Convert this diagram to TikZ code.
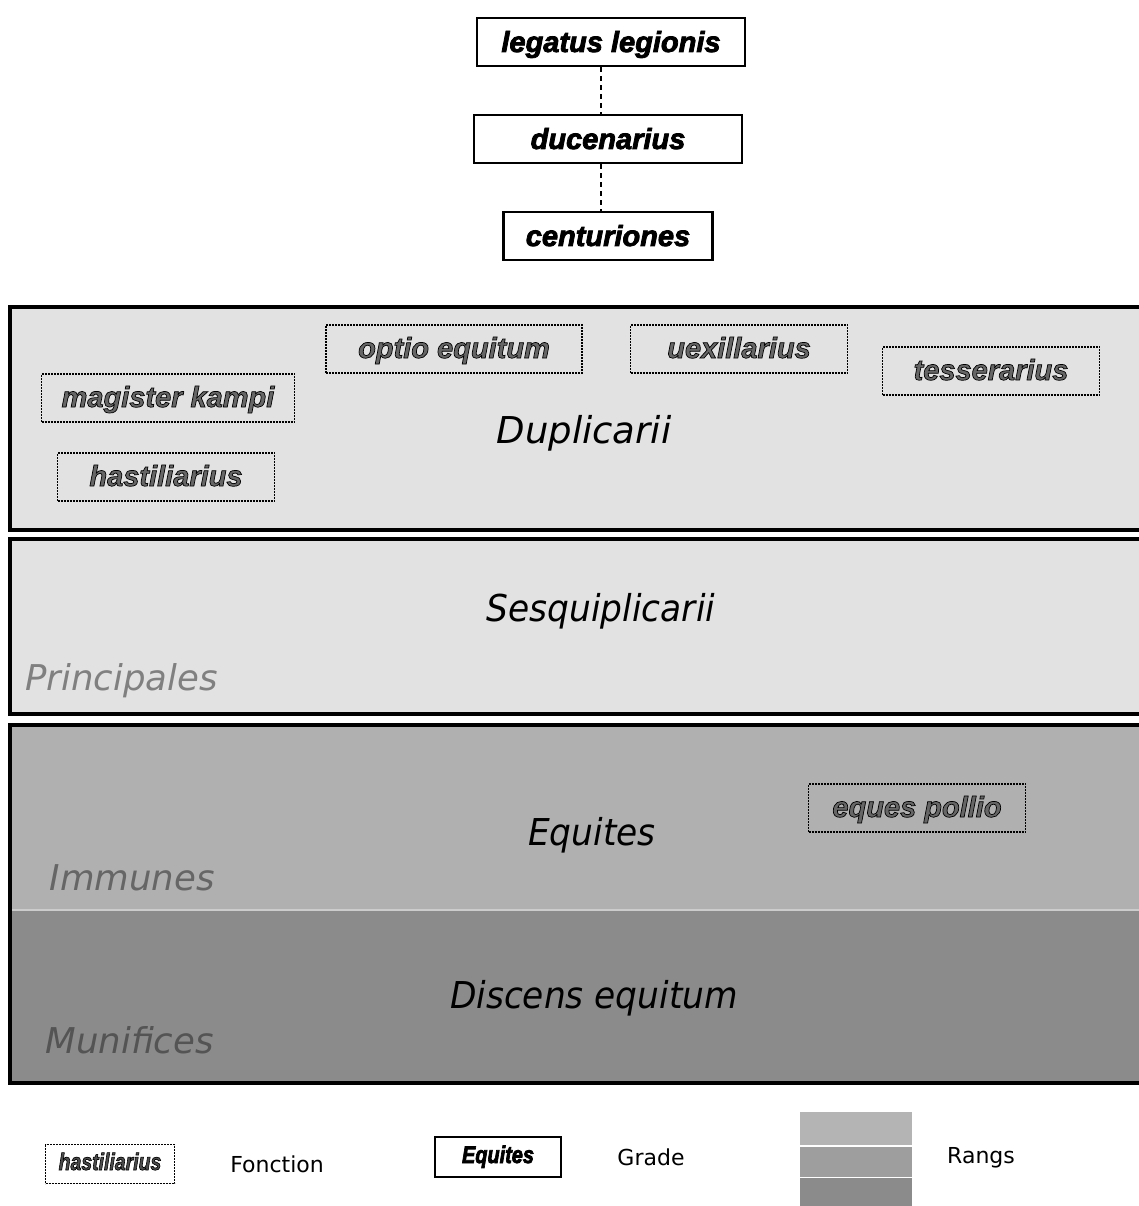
\documentclass[tikz,border=0pt]{standalone}
\usepackage{fontspec}
\setmainfont{DejaVu Sans}
\newfontfamily\arialfont{Liberation Sans}
\usetikzlibrary{positioning}
\definecolor{principales}{HTML}{E2E2E2}
\definecolor{immunes}{HTML}{B0B0B0}
\definecolor{munifices}{HTML}{8B8B8B}

\begin{document}
\begin{tikzpicture}[x=1pt,y=-1pt,
  grade/.style={draw,line width=2.5pt,fill=white,minimum height=48pt,
    text height=24pt,text depth=4pt,
    font=\arialfont\bfseries\itshape\fontsize{29}{30}\selectfont},
  fonction/.style={draw,line width=1.1pt,dash pattern=on 2pt off 1pt,
    minimum height=48pt,minimum width=217pt,text=black!60,
    text height=24pt,text depth=6pt,
    font=\arialfont\bfseries\itshape\fontsize{29}{30}\selectfont},
  rang/.style={draw,line width=3.5pt},
  gradename/.style={anchor=base,font=\itshape\fontsize{37}{40}\selectfont},
  rangname/.style={anchor=base west,font=\itshape\fontsize{35.5}{40}\selectfont},
  legende/.style={inner sep=0pt,font=\fontsize{22}{24}\selectfont}]
\def\cond#1{\scalebox{.93}[1]{#1}}
\def\contour#1{\special{pdf:literal direct 2 Tr 0.7 w 0 G}#1\special{pdf:literal direct 0 Tr}}
\def\gras#1{\special{pdf:literal direct 2 Tr 0.8 w 0 G}#1\special{pdf:literal direct 0 Tr}}
\useasboundingbox (0,0) rectangle (1139,1206);

\node[grade,minimum width=268pt] (legatus) at (611,42) {\gras{legatus legionis}};
\node[grade,minimum width=268pt] (ducenarius) at (608,139) {\gras{ducenarius}};
\node[grade,minimum width=209pt] (centuriones) at (608,236) {\gras{centuriones}};
\draw[line width=1.5pt,dash pattern=on 5pt off 4pt]
  ([xshift=-10pt]legatus.south) -- ([xshift=-7pt]ducenarius.north);
\draw[line width=1.5pt,dash pattern=on 5pt off 4pt]
  ([xshift=-7pt]ducenarius.south) -- ([xshift=-7pt]centuriones.north);

\draw[rang,fill=principales] (10,307) rectangle (1145,530);
\draw[rang,fill=principales] (10,539) rectangle (1145,714);
\fill[immunes] (10,725) rectangle (1145,910);
\fill[munifices] (10,910) rectangle (1145,1083);
\draw[white!80!black,line width=1.5pt] (10,910) -- (1145,910);
\draw[rang] (10,725) rectangle (1145,1083);

\node[gradename] (duplicarii) at (584,443) {Duplicarii};
\node[gradename] (sesquiplicarii) at (601,621) {\cond{Sesquiplicarii}};
\node[gradename] (equites) at (592,845) {\cond{Equites}};
\node[gradename] (discens) at (594,1008) {\cond{Discens equitum}};

\node[rangname,text=black!50] (principales) at (22,690) {Principales};
\node[rangname,text=black!60] (immunesname) at (46,890) {Immunes};
\node[rangname,text=black!67] (munificesname) at (42,1053) {Munifices};

\node[fonction,minimum width=256pt] (optio) at (454,349) {\contour{optio equitum}};
\node[fonction] (uexillarius) at (739,349) {\contour{uexillarius}};
\node[fonction] (tesserarius) at (991,371) {\contour{tesserarius}};
\node[fonction,minimum width=253pt] (magister) at (168,398) {\contour{magister kampi}};
\node[fonction] (hastiliarius) at (166,477) {\contour{hastiliarius}};
\node[fonction] (pollio) at (917,808) {\contour{eques pollio}};

\node[fonction,minimum width=129pt,minimum height=39pt,inner sep=0pt,text=black!70,
  text height=17pt,text depth=5pt] (legfonction) at (110,1164)
  {\fontsize{24}{26}\selectfont\scalebox{.81}[1]{\contour{hastiliarius}}};
\node[legende,right=55pt of legfonction] (fonctiontxt) {Fonction};
\node[grade,minimum width=126pt,minimum height=40pt,inner sep=0pt,
  text height=17pt,text depth=5pt] (leggrade) at (498,1157)
  {\fontsize{24}{26}\selectfont\scalebox{.83}[1]{\gras{Equites}}};
\node[legende,right=55pt of leggrade] (gradetxt) {Grade};
\fill[immunes!95!white] (800,1112) rectangle (912,1145);
\fill[white!62!black] (800,1147) rectangle (912,1177);
\fill[munifices] (800,1178) rectangle (912,1206);
\coordinate (legrang) at (912,1158);
\node[legende,right=35pt of legrang] (rangstxt) {Rangs};
\end{tikzpicture}
\end{document}
